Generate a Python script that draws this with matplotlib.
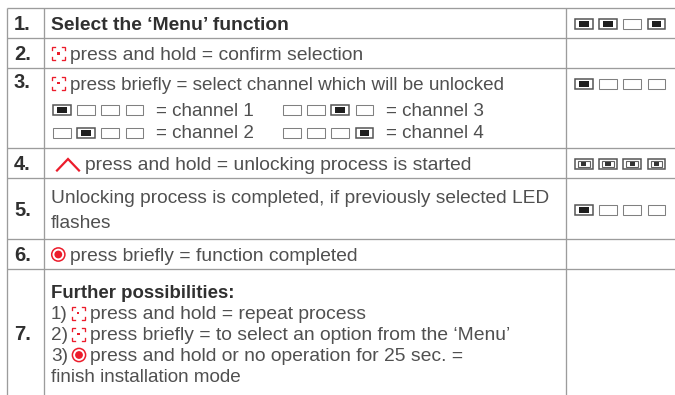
import matplotlib
matplotlib.use("Agg")
import matplotlib.pyplot as plt
from matplotlib.patches import Rectangle, Circle

plt.rcParams['font.family'] = ['Liberation Sans', 'DejaVu Sans']

# ---- table content ----
row_numbers = ["1.", "2.", "3.", "4.", "5.", "6.", "7."]
title_text = "Select the ‘Menu’ function"
step2_text = "press and hold = confirm selection"
step3_text = "press briefly = select channel which will be unlocked"
channel_labels = ["= channel 1", "= channel 2", "= channel 3", "= channel 4"]
channel_states = ["1000", "0100", "0010", "0001"]
step4_text = "press and hold = unlocking process is started"
step5_lines = ["Unlocking process is completed, if previously selected LED", "flashes"]
step6_text = "press briefly = function completed"
further_title = "Further possibilities:"
further_lines = ["press and hold = repeat process",
                 "press briefly = to select an option from the ‘Menu’",
                 "press and hold or no operation for 25 sec. ="]
further_prefix = ["1)", "2)", "3)"]
further_last = "finish installation mode"
led_column = {0: "1101", 2: "1000", 3: "ffff", 4: "1000"}

# ---- layout (pixels) ----
W, H = 675, 395
h_lines = [8, 38, 68, 148, 178, 239, 269]
v_lines = [6.5, 43.5, 565.5]
num_base = [30, 60, 88, 170, 216, 261, 340]
led_row_y = {0: 24, 2: 84, 3: 164, 4: 210}
led_col_x = [575, 598.5, 623, 647]

TEXT = "#505050"
DARK = "#303030"
RED = "#ec1c2b"
LINE = "#9c9c9c"
FS = 13.6
FSW = 13.9

fig = plt.figure(figsize=(W / 100, H / 100), dpi=100, facecolor="white")
ax = fig.add_axes([0, 0, 1, 1])
ax.set_xlim(0, W)
ax.set_ylim(H, 0)
ax.axis("off")

for y in h_lines:
    ax.plot([v_lines[0], W], [y, y], color=LINE, lw=0.95, solid_capstyle="butt")
for x in v_lines:
    ax.plot([x, x], [h_lines[0], H], color=LINE, lw=0.95, solid_capstyle="butt")


def txt(x, y, s, color=TEXT, weight="normal", size=FS):
    ax.text(x, y, s, color=color, fontweight=weight, fontsize=size, va="baseline", ha="left")


def led(x, cy, state):
    w, h = 17.5, 10.5
    y = cy - h / 2
    ax.add_patch(Rectangle((x, y), w, h, fc="white", ec="#555555" if state != "0" else "#808080",
                           lw=0.75 if state == "0" else 1.1))
    if state == "1":
        ax.add_patch(Rectangle((x + 4, y + 2.5), w - 8, h - 5, fc="#1e1e1e", ec="none"))
    elif state == "f":
        ax.add_patch(Rectangle((x + 3, y + 2), w - 6, h - 4, fc="white", ec="#606060", lw=0.8))
        ax.add_patch(Rectangle((x + 6.2, y + 3.7), w - 12.4, h - 7.4, fc="#333333", ec="none"))


def leds(x0, step, cy, states):
    for i, s in enumerate(states):
        led(x0 + i * step, cy, s)


def menu_icon(cx, cy):
    r, c = 6.5, 3
    for sx in (-1, 1):
        for sy in (-1, 1):
            ax.plot([cx + sx * r, cx + sx * r, cx + sx * (r - c)],
                    [cy + sy * (r - c), cy + sy * r, cy + sy * r],
                    color=RED, lw=0.95, solid_joinstyle="miter")
    ax.add_patch(Rectangle((cx - 1.4, cy - 1.4), 2.8, 2.8, fc=RED, ec="none"))


def target_icon(cx, cy):
    ax.add_patch(Circle((cx, cy), 6.6, fc="white", ec=RED, lw=1.1))
    ax.add_patch(Circle((cx, cy), 3.9, fc=RED, ec="none"))


def chevron(cx, cy):
    ax.plot([cx - 11, cx, cx + 11], [cy + 6.5, cy - 5, cy + 6.5], color=RED, lw=1.6,
            solid_joinstyle="miter")


# row numbers
for s, y in zip(row_numbers, num_base):
    txt(14, y, s, color=DARK, weight="bold", size=14.5)

# body
txt(51, 30, title_text, color=DARK, weight="bold", size=13.85)
menu_icon(58.3, 53.5)
txt(70, 60, step2_text, size=FSW)
menu_icon(58.3, 83)
txt(70, 90, step3_text)

txt(155.5, 116, channel_labels[0])
txt(155.5, 138, channel_labels[1])
txt(385.5, 116, channel_labels[2])
txt(385.5, 138, channel_labels[3])
leds(53, 24.2, 110, channel_states[0])
leds(53, 24.2, 133, channel_states[1])
leds(283, 24.2, 110, channel_states[2])
leds(283, 24.2, 133, channel_states[3])

chevron(68, 164)
txt(85, 170, step4_text, size=FSW)
txt(51, 203, step5_lines[0], size=13.82)
txt(51, 228, step5_lines[1], size=13.82)
target_icon(58.3, 254.5)
txt(70, 261, step6_text, size=FSW)

txt(51, 298, further_title, color=DARK, weight="bold", size=13.45)
further_y = [319, 340, 361]
for p, line, y in zip(further_prefix, further_lines, further_y):
    txt(51, y, p)
    txt(90, y, line, size=FSW)
menu_icon(78, 313)
menu_icon(78.5, 334)
target_icon(79, 355)
txt(51, 382, further_last)

# status column
for row, states in led_column.items():
    leds(led_col_x[0], 24.2, led_row_y[row], states)

fig.savefig("out.png", dpi=100, facecolor="white")
